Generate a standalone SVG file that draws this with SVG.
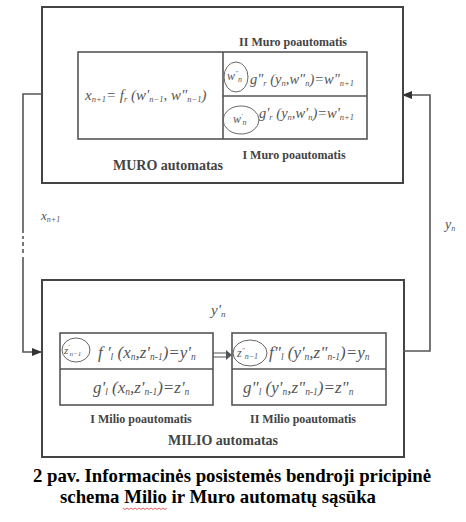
<svg xmlns="http://www.w3.org/2000/svg" width="466" height="522" viewBox="0 0 466 522">
<defs>
<marker id="ah" markerWidth="10" markerHeight="8" refX="10" refY="4" orient="auto" markerUnits="userSpaceOnUse">
<path d="M0,0 L10,4 L0,8 Z" fill="#333"/>
</marker>
<style>
.box{fill:none;stroke:#444;stroke-width:2}
.ibox{fill:none;stroke:#555;stroke-width:1.6}
.circ{fill:none;stroke:#666;stroke-width:1}
.ln{fill:none;stroke:#555;stroke-width:1.6}
.f{fill:#555}
.b{fill:#444;text-anchor:middle}
.cap{fill:#000;text-anchor:middle}
</style>
</defs>
<rect width="466" height="522" fill="#fff"/>

<g id="muro">
<rect class="box" x="42" y="7" width="361" height="176"/>
<rect class="ibox" x="78" y="52" width="289" height="87"/>
<line class="ibox" x1="223" y1="52" x2="223" y2="139"/>
<line class="ibox" x1="223" y1="96" x2="367" y2="96"/>
<text class="f" x="85" y="100" font-family="Liberation Serif, DejaVu Serif, serif" font-style="italic" font-size="15">x<tspan font-size="8.5" dy="2">n+1</tspan><tspan dy="-2">= f</tspan><tspan font-size="8.5" dy="2">r</tspan><tspan dy="-2"> (w'</tspan><tspan font-size="8.5" dy="2">n−1</tspan><tspan dy="-2">, w"</tspan><tspan font-size="8.5" dy="2">n−1</tspan><tspan dy="-2">)</tspan></text>
<ellipse class="circ" cx="236" cy="77" rx="12" ry="15"/>
<text class="f" x="227" y="80" font-family="Liberation Serif, DejaVu Serif, serif" font-style="italic" font-size="12">w<tspan font-size="7" dy="-5">''</tspan><tspan font-size="8" dy="7">n</tspan></text>
<text class="f" x="250" y="84" font-family="Liberation Serif, DejaVu Serif, serif" font-style="italic" font-size="14.5">g"<tspan font-size="8.5" dy="2">r</tspan><tspan dy="-2"> (y</tspan><tspan font-size="8.5" dy="2">n</tspan><tspan dy="-2">,w"</tspan><tspan font-size="8.5" dy="2">n</tspan><tspan dy="-2">)=w"</tspan><tspan font-size="8.5" dy="2">n+1</tspan></text>
<ellipse class="circ" cx="241" cy="120" rx="18" ry="14"/>
<text class="f" x="233" y="123" font-family="Liberation Serif, DejaVu Serif, serif" font-style="italic" font-size="12">w<tspan font-size="7" dy="-5">'</tspan><tspan font-size="8" dy="7">n</tspan></text>
<text class="f" x="259" y="118" font-family="Liberation Serif, DejaVu Serif, serif" font-style="italic" font-size="14.5">g'<tspan font-size="8.5" dy="2">r</tspan><tspan dy="-2"> (y</tspan><tspan font-size="8.5" dy="2">n</tspan><tspan dy="-2">,w'</tspan><tspan font-size="8.5" dy="2">n</tspan><tspan dy="-2">)=w'</tspan><tspan font-size="8.5" dy="2">n+1</tspan></text>
<text class="b" x="293" y="46" font-family="Liberation Serif, DejaVu Serif, serif" font-weight="bold" font-size="12">II Muro poautomatis</text>
<text class="b" x="294" y="159" font-family="Liberation Serif, DejaVu Serif, serif" font-weight="bold" font-size="12">I  Muro poautomatis</text>
<text class="b" x="168" y="170" font-family="Liberation Serif, DejaVu Serif, serif" font-weight="bold" font-size="14">MURO automatas</text>
</g>

<g id="milio">
<rect class="box" x="42" y="280" width="362" height="177"/>
<text class="f" x="211" y="315" font-family="Liberation Serif, DejaVu Serif, serif" font-style="italic" font-size="15">y'<tspan font-size="9" dy="2">n</tspan></text>
<rect class="ibox" x="60" y="333" width="153" height="72"/>
<line class="ibox" x1="60" y1="369" x2="213" y2="369"/>
<ellipse class="circ" cx="76" cy="350" rx="14" ry="12"/>
<text class="f" x="64" y="354" font-family="Liberation Serif, DejaVu Serif, serif" font-style="italic" font-size="11">z<tspan font-size="6" dy="-5">'</tspan><tspan font-size="7" dy="7">n−1</tspan></text>
<text class="f" x="98" y="358" font-family="Liberation Serif, DejaVu Serif, serif" font-style="italic" font-size="17">f '<tspan font-size="9.5" dy="2">l</tspan><tspan dy="-2"> (x</tspan><tspan font-size="9.5" dy="2">n</tspan><tspan dy="-2">,z'</tspan><tspan font-size="9.5" dy="2">n-1</tspan><tspan dy="-2">)=y'</tspan><tspan font-size="9.5" dy="2">n</tspan></text>
<text class="f" x="93" y="393" font-family="Liberation Serif, DejaVu Serif, serif" font-style="italic" font-size="17">g'<tspan font-size="9.5" dy="2">l</tspan><tspan dy="-2"> (x</tspan><tspan font-size="9.5" dy="2">n</tspan><tspan dy="-2">,z'</tspan><tspan font-size="9.5" dy="2">n-1</tspan><tspan dy="-2">)=z'</tspan><tspan font-size="9.5" dy="2">n</tspan></text>
<rect class="ibox" x="232" y="333" width="154" height="72"/>
<line class="ibox" x1="232" y1="369" x2="386" y2="369"/>
<ellipse class="circ" cx="250" cy="353" rx="17" ry="13"/>
<text class="f" x="237" y="357" font-family="Liberation Serif, DejaVu Serif, serif" font-style="italic" font-size="12">z<tspan font-size="7" dy="-5">''</tspan><tspan font-size="8" dy="7">n−1</tspan></text>
<text class="f" x="269" y="358" font-family="Liberation Serif, DejaVu Serif, serif" font-style="italic" font-size="17">f"<tspan font-size="9.5" dy="2">l</tspan><tspan dy="-2"> (y'</tspan><tspan font-size="9.5" dy="2">n</tspan><tspan dy="-2">,z"</tspan><tspan font-size="9.5" dy="2">n-1</tspan><tspan dy="-2">)=y</tspan><tspan font-size="9.5" dy="2">n</tspan></text>
<text class="f" x="243" y="393" font-family="Liberation Serif, DejaVu Serif, serif" font-style="italic" font-size="17">g"<tspan font-size="9.5" dy="2">l</tspan><tspan dy="-2"> (y'</tspan><tspan font-size="9.5" dy="2">n</tspan><tspan dy="-2">,z"</tspan><tspan font-size="9.5" dy="2">n-1</tspan><tspan dy="-2">)=z"</tspan><tspan font-size="9.5" dy="2">n</tspan></text>
<text class="b" x="141" y="423" font-family="Liberation Serif, DejaVu Serif, serif" font-weight="bold" font-size="12">I Milio poautomatis</text>
<text class="b" x="303" y="423" font-family="Liberation Serif, DejaVu Serif, serif" font-weight="bold" font-size="12">II Milio poautomatis</text>
<text class="b" x="223" y="445" font-family="Liberation Serif, DejaVu Serif, serif" font-weight="bold" font-size="14">MILIO automatas</text>
</g>

<g id="connectors">
<path class="ln" d="M42,94 H23 V233"/>
<path class="ln" d="M23,236 V239 M23,242 V246 M23,249 V253"/>
<path class="ln" d="M23,257 V352 H42" marker-end="url(#ah)"/>
<path class="ln" d="M403,351 H430 V95 H402" marker-end="url(#ah)"/>
<path fill="none" stroke="#555" stroke-width="1" d="M213,353 H228 M213,357 H228"/>
<path fill="#555" d="M226,350 L232,355 L226,360 Z"/>
</g>

<g id="labels">
<text class="f" x="41" y="220" font-family="Liberation Serif, DejaVu Serif, serif" font-style="italic" font-size="13">x<tspan font-size="8" dy="2">n+1</tspan></text>
<text class="f" x="445" y="229" font-family="Liberation Serif, DejaVu Serif, serif" font-style="italic" font-size="14">y<tspan font-size="8" dy="2">n</tspan></text>
</g>

<g id="caption">
<text class="cap" x="232" y="482" font-family="Liberation Serif, DejaVu Serif, serif" font-weight="bold" font-size="18.8">2 pav. Informacinės posistemės bendroji pricipinė</text>
<text class="cap" x="218" y="503" font-family="Liberation Serif, DejaVu Serif, serif" font-weight="bold" font-size="18.8">schema Milio ir Muro automatų sąsūka</text>
<path fill="none" stroke="#d33" stroke-width="0.8" d="M123,508 l2,1.5 l2,-1.5 l2,1.5 l2,-1.5 l2,1.5 l2,-1.5 l2,1.5 l2,-1.5 l2,1.5 l2,-1.5 l2,1.5 l2,-1.5 l2,1.5 l2,-1.5 l2,1.5 l2,-1.5 l2,1.5 l2,-1.5 l2,1.5 l2,-1.5 l2,1.5 l2,-1.5"/>
</g>
</svg>
